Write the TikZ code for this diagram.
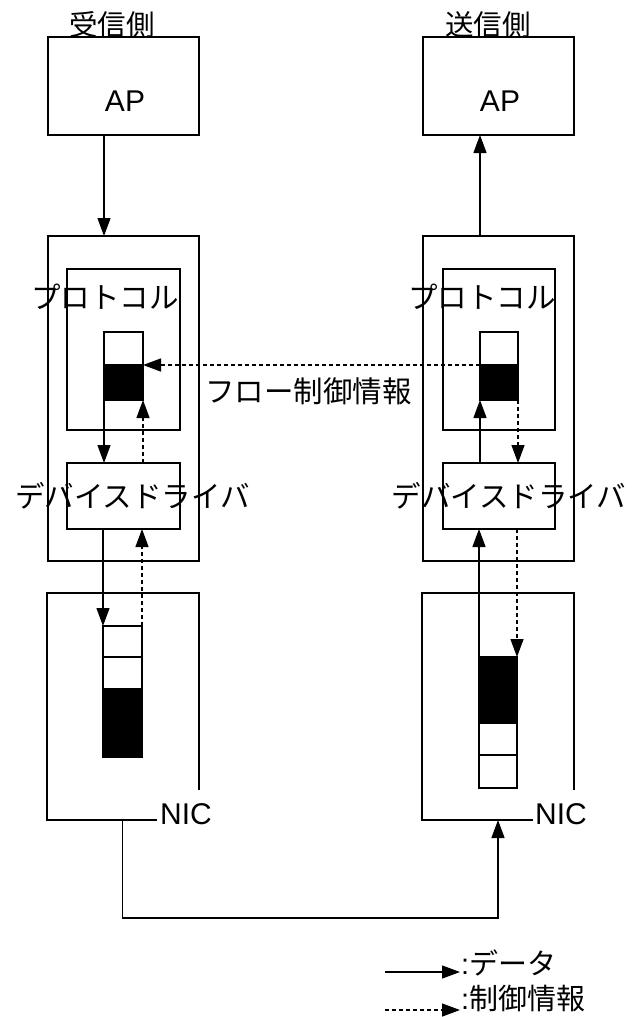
\documentclass[tikz,border=0pt]{standalone}
\usepackage{fontspec}
\setmainfont{Liberation Sans}
\newfontfamily\jp{Noto Sans CJK JP}
\usetikzlibrary{arrows.meta}
\begin{document}
\begin{tikzpicture}[x=1pt,y=-1pt,
  lw/.style={line width=1.3pt},
  box/.style={draw,lw,inner sep=0pt,outer sep=0pt},
  cell/.style={box,fill=white},
  full/.style={box,fill=black},
  region/.style={inner sep=0pt,outer sep=0pt},
  tip/.tip={Triangle[length=18pt 0,width=13pt 0]},
  data/.style={lw,-tip},
  ctrl/.style={lw,dash pattern=on 4pt off 3pt,-tip},
  jt/.style={font=\jp\fontsize{29.5}{31}\selectfont,inner sep=0pt},
  jk/.style={font=\jp\fontsize{28.5}{30}\selectfont,inner sep=0pt},
  lt/.style={font=\fontsize{30}{32}\selectfont,inner sep=0pt}]
\useasboundingbox (0,0) rectangle (644,1017);

% AP boxes
\node[box,minimum width=151pt,minimum height=98pt] (apL) at (123.5,86) {};
\node[box,minimum width=151pt,minimum height=98pt] (apR) at (498.5,86) {};
\node[lt] (apLt) at (125,101) {AP};
\node[lt] (apRt) at (500,101) {AP};
\node[jk] (rxlab) at (112,25) {受信側};
\node[jk] (txlab) at (488,25) {送信側};

% kernel boxes
\node[box,minimum width=151pt,minimum height=325pt] (midL) at (123.5,398.5) {};
\node[box,minimum width=151pt,minimum height=325pt] (midR) at (498.5,398.5) {};
\node[box,minimum width=113pt,minimum height=161pt] (protL) at (123.5,349.5) {};
\node[box,minimum width=112pt,minimum height=161pt] (protR) at (499,349.5) {};
\node[box,minimum width=113pt,minimum height=66pt] (drvL) at (123.5,496) {};
\node[box,minimum width=112pt,minimum height=66pt] (drvR) at (499,496) {};

% protocol buffers
\node[cell,minimum width=39pt,minimum height=33pt] (bufLa) at (123.5,348.5) {};
\node[full,minimum width=39pt,minimum height=35pt] (bufLb) at (123.5,382.5) {};
\node[cell,minimum width=38pt,minimum height=33pt] (bufRa) at (499,348.5) {};
\node[full,minimum width=38pt,minimum height=35pt] (bufRb) at (499,382.5) {};

% NIC regions
\node[region,minimum width=152pt,minimum height=227pt] (nicL) at (123,706.5) {};
\node[region,minimum width=152pt,minimum height=227pt] (nicR) at (498,706.5) {};
\draw[lw] ([xshift=110pt]nicL.south west) -- (nicL.south west) -- (nicL.north west)
  -- (nicL.north east) -- ([yshift=30pt]nicL.south east);
\draw[lw] ([xshift=111pt]nicR.south west) -- (nicR.south west) -- (nicR.north west)
  -- (nicR.north east) -- ([yshift=30pt]nicR.south east);
\node[lt,anchor=west] (nicLt) at (160,814) {NIC};
\node[lt,anchor=west] (nicRt) at (535,814) {NIC};

% NIC buffers
\node[cell,minimum width=39pt,minimum height=31pt] (bufNL1) at (122.5,641.5) {};
\node[cell,minimum width=39pt,minimum height=32pt] (bufNL2) at (122.5,673) {};
\node[full,minimum width=39pt,minimum height=68pt] (bufNL3) at (122.5,723) {};
\node[full,minimum width=38pt,minimum height=66pt] (bufNR1) at (498,690) {};
\node[cell,minimum width=38pt,minimum height=32pt] (bufNR2) at (498,739) {};
\node[cell,minimum width=38pt,minimum height=33pt] (bufNR3) at (498,771.5) {};

% data arrows
\draw[data] (apL.south -| bufLa.west) -- (midL.north -| bufLa.west);
\draw[data] (midR.north -| bufRa.west) -- (apR.south -| bufRa.west);
\draw[data] (bufLb.south west) -- (drvL.north -| bufLb.west);
\draw[data] (drvL.south -| bufNL1.west) -- (bufNL1.north west);
\draw[data] (drvR.north -| bufRb.west) -- (bufRb.south west);
\draw[data] (bufNR1.north west) -- (drvR.south -| bufNR1.west);
\coordinate (lnk) at (122,918);
\draw[data] (nicL.south -| bufNL1.center) -- (bufNL1.center |- lnk)
  -- (lnk -| bufNR1.center) -- (nicR.south -| bufNR1.center);

% control arrows
\draw[ctrl] (bufRb.north west) -- (bufLb.north east);
\draw[ctrl] (drvL.north -| bufLb.east) -- (bufLb.south east);
\draw[ctrl] (bufNL1.north east) -- (drvL.south -| bufNL1.east);
\draw[ctrl] (bufRb.south east) -- (drvR.north -| bufRb.east);
\draw[ctrl] (drvR.south -| bufNR1.east) -- (bufNR1.north east);

% texts
\node[jt] (protLt) at (105,297) {プロトコル};
\node[jt] (protRt) at (482,297) {プロトコル};
\node[jt] (drvLt) at (132.5,496) {デバイスドライバ};
\node[jt] (drvRt) at (509,496) {デバイスドライバ};
\node[jt] (flow) at (308.5,391) {フロー制御情報};

% legend
\coordinate (lg1a) at (385,972);
\coordinate (lg1b) at (460,972);
\coordinate (lg2a) at (385,1010);
\coordinate (lg2b) at (460,1010);
\draw[data] (lg1a) -- (lg1b);
\draw[ctrl] (lg2a) -- (lg2b);
\node[jt,anchor=west] (lgt1) at (461,963) {\fontsize{29}{31}\selectfont\rmfamily:\jp データ};
\node[jt,anchor=west] (lgt2) at (461,998) {\fontsize{29}{31}\selectfont\rmfamily:\jp 制御情報};
\end{tikzpicture}
\end{document}
